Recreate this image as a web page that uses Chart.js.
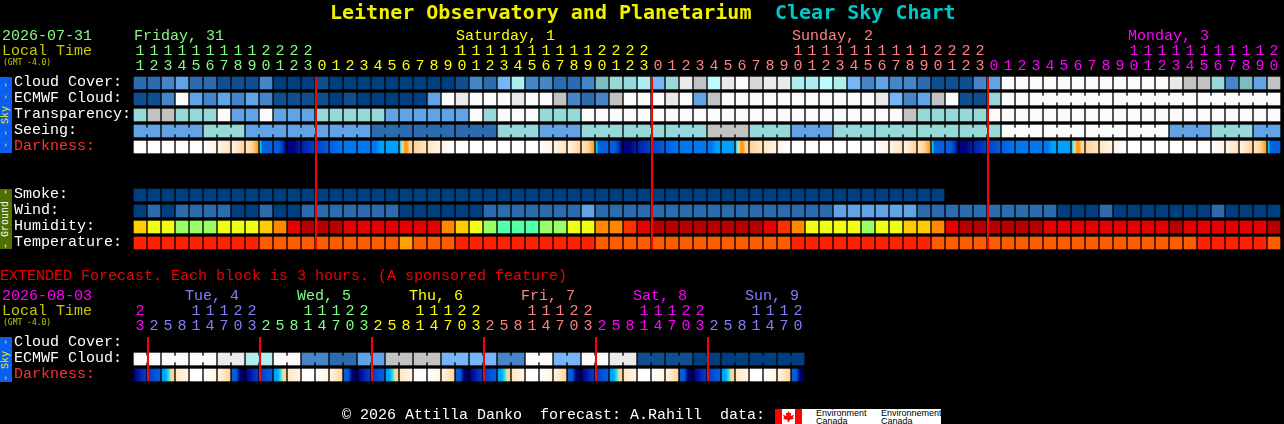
<!DOCTYPE html>
<html>
<head>
<meta charset="utf-8">
<title>Leitner Observatory and Planetarium Clear Sky Chart</title>
<script src="https://cdn.jsdelivr.net/npm/chart.js@4"></script>
<style>
  html, body { margin: 0; padding: 0; background: #000; width: 1284px; height: 424px; overflow: hidden; }
  canvas { position: absolute; left: 0; }
  .t { position: absolute; font: 15px/15px "Liberation Mono", monospace; white-space: pre; will-change: transform; }
  .title { font: bold 20px/20px "DejaVu Sans Mono", monospace; top: 2px; }
  .gmt { font: 8px/8px "DejaVu Sans Mono", monospace; color: #c8c800; left: 3px; }
  .strip { position: absolute; left: 0; width: 12px; }
  .strip span { position: absolute; left: 50%; top: 50%; transform: translate(-50%, -50%) rotate(-90deg);
    font: 10px/10px "Liberation Mono", monospace; white-space: pre; }
  .logo { position: absolute; background: #fff; color: #000; font: 9px/8px "Liberation Sans", sans-serif; white-space: pre; }
</style>
</head>
<body>
<div class="t title" style="left:330px;color:#f0f000">Leitner Observatory and Planetarium</div>
<div class="t title" style="left:775px;color:#00c8c8">Clear Sky Chart</div>

<div class="t" style="left:2px;top:29px;color:#80ff80">2026-07-31</div>
<div class="t" style="left:2px;top:44px;color:#c8c800">Local Time</div>
<div class="t gmt" style="top:59px">(GMT -4.0)</div>
<div class="strip" style="top:77px;height:76px;background:#0a5ef0"><span style="color:#f0f000">- - Sky - -</span></div>
<div class="strip" style="top:189px;height:60px;background:#4f6f00"><span style="color:#fff">- Ground -</span></div>
<canvas id="mainChart" width="1284" height="253" style="top:0"></canvas>

<div class="t" style="left:0;top:269px;color:#f00000">EXTENDED Forecast. Each block is 3 hours. (A sponsored feature)</div>
<div class="t" style="left:2px;top:289px;color:#ff00ff">2026-08-03</div>
<div class="t" style="left:2px;top:304px;color:#c8c800">Local Time</div>
<div class="t gmt" style="top:319px">(GMT -4.0)</div>
<div class="strip" style="top:337px;height:45px;background:#0a5ef0"><span style="color:#f0f000">- Sky -</span></div>
<canvas id="extChart" width="1284" height="125" style="top:260px"></canvas>

<div class="t" style="left:342px;top:408px;color:#fff">© 2026 Attilla Danko  forecast: A.Rahill  data:</div>
<div style="position:absolute;left:775px;top:409px;width:27px;height:15px;background:linear-gradient(90deg,#f00 7px,#fff 7px,#fff 20px,#f00 20px)">
  <div style="position:absolute;left:8px;top:2px;width:11px;height:11px;background:#f00;clip-path:polygon(50% 0,62% 20%,75% 15%,70% 45%,100% 35%,90% 60%,100% 70%,58% 82%,58% 100%,42% 100%,42% 82%,0 70%,10% 60%,0 35%,30% 45%,25% 15%,38% 20%)"></div>
</div>
<div class="logo" style="left:802px;top:409px;width:139px;height:15px">
  <span style="position:absolute;left:14px;top:0">Environment
Canada</span>
  <span style="position:absolute;left:79px;top:0">Environnement
Canada</span>
</div>

<script>
// hours per column
const hours = [11,12,13,14,15,16,17,18,19,20,21,22,23,
  0,1,2,3,4,5,6,7,8,9,10,11,12,13,14,15,16,17,18,19,20,21,22,23,
  0,1,2,3,4,5,6,7,8,9,10,11,12,13,14,15,16,17,18,19,20,21,22,23,
  0,1,2,3,4,5,6,7,8,9,10,11,12,13,14,15,16,17,18,19,20];
const extHours = [23,
  2,5,8,11,14,17,20,23, 2,5,8,11,14,17,20,23, 2,5,8,11,14,17,20,23,
  2,5,8,11,14,17,20,23, 2,5,8,11,14,17,20,23, 2,5,8,11,14,17,20];

const dayNames = ['Friday, 31', 'Saturday, 1', 'Sunday, 2', 'Monday, 3'];
const dayCols = [0, 23, 47, 71];
const dayColors = ['#80ff80', '#ffff00', '#ff8080', '#ff00ff'];
const extDayNames = ['Tue, 4', 'Wed, 5', 'Thu, 6', 'Fri, 7', 'Sat, 8', 'Sun, 9'];
const extDayCols = [3, 11, 19, 27, 35, 43];
const extDayColors = ['#ff00ff', '#8080ff', '#80ff80', '#ffff00', '#ff8080', '#ff00ff', '#8080ff'];

const rowNames = ['Cloud Cover:', 'ECMWF Cloud:', 'Transparency:', 'Seeing:', 'Darkness:', '', '', 'Smoke:', 'Wind:', 'Humidity:', 'Temperature:'];
const extRowNames = ['Cloud Cover:', 'ECMWF Cloud:', 'Darkness:'];

// colour levels
const skyColors = ['#003f7f','#0f4f8f','#2c6cae','#4585c8','#62a3e6','#75b5f8','#7ebdbe','#97d8d8','#aeeeee','#bcfcfc','#c2c2c2','#d8d8d8','#eaeaea','#fbfbfb'];
const humidityColors = ['#b80000','#e80000','#ff3000','#ff8800','#ffcc00','#eeff11','#99ff66','#55ffaa'];
const tempColors = ['#ff2200','#ff5c00','#ffa000'];
const darkRamp = ['#ffffff','#fff4e6','#ffe6c4','#ffd49a','#f8a020','#00e0ff','#00a0ff','#0078f0','#0060e0','#0040c8','#0020a8','#000080','#000040'];

const cloudCover = [2,2,3,4,2,2,1,1,1,3,0,0,0,1,0,0,0,0,0,0,0,
  0,0,1,3,2,5,8,3,3,2,2,3,6,7,7,8,5,7,12,10,9,12,13,11,12,12,8,8,9,8,5,
  3,4,3,3,2,1,1,1,3,4,
  13,13,13,13,13,13,13,13,13,13,13,13,
  12,10,10,7,3,6,4,10];
const ecmwf = [1,1,3,13,4,3,4,3,4,3,1,1,1,1,0,1,0,0,0,0,0,
  4,13,12,13,13,13,12,13,13,10,3,2,3,10,13,13,13,12,13,4,10,13,13,13,13,13,13,13,13,13,13,
  13,12,5,3,4,10,13,1,1,7,13,13,
  13,13,13,13,13,13,13,13,13,13,13,13,13,13,13,13,13,13];
const transparency = [7,10,10,7,7,7,13,4,4,13,4,4,4,7,7,7,7,7,4,4,4,
  4,4,4,13,7,13,13,13,7,7,7,13,13,13,13,13,13,13,13,13,13,13,13,13,13,13,13,13,13,13,13,
  13,13,13,10,7,7,7,7,7,
  13,13,13,13,13,13,13,13,13,13,13,13,13,13,13,13,13,13,13,13,13];
const seeing = [4,4, 4,4,4, 7,7,7, 4,4,4, 4,4,4, 4,4,4, 2,2,2, 2,2,2, 2,2,2, 7,7,7, 4,4,4, 7,7,7, 7,7,7, 7,7,7,
  10,10,10, 7,7,7, 4,4,4, 7,7,7, 7,7,7, 7,7,7, 7,7,7, 13,13,13, 13,13,13, 13,13,13, 13,13,13, 4,4,4, 7,7,7, 4,4];
// darkness: hex digits are ramp levels, spread evenly over the block
const darkness = ['0','0','0','0','0','01','12','13','234','588888','889b','bba','a9','98','87','7','7','7766','6','534433','32','21','10',
  '0','0','0','0','0','0','01','12','13','234','588888','889b','bba','a9','98','87','7','7','7766','6','534433','32','21','10',
  '0','0','0','0','0','0','01','12','13','234','588888','889b','bba','a9','98','87','7','7','7766','6','534433','32','21','10',
  '0','0','0','0','0','0','01','12','13','234','588888'];
const smoke = [0,0,0,0,0,0,0,0,0,0,0,0,0,0,0,0,0,0,0,0,0,0,0,0,0,0,0,0,0,
  0,0,0,0,0,0,0,0,0,0,0,0,0,0,0,0,0,0,0,0,0,0,0,0,0,0,0,0,0];
const wind = [0,2,0,2,2,2,2,0,0,2,0,0,2,2,2,2,2,2,2,0,0,
  0,0,0,0,2,2,2,2,2,2,2,4,2,2,2,2,2,2,2,2,2,2,2,2,2,2,2,2,2,4,4,
  4,4,4,4,2,2,2,2,2,2,2,2,2,2,0,0,0,2,0,0,0,0,0,0,0,2,0,0,0,0];
const humidity = [4,5,5,6,6,6,5,5,5,4,3,1,0,0,0,1,1,1,1,1,1,
  1,3,4,5,6,7,7,7,6,6,5,5,3,3,2,1,0,0,0,0,0,0,0,0,1,2,3,5,5,5,5,
  6,5,5,4,4,3,1,0,0,0,0,0,0,1,1,1,1,1,1,1,1,1,0,1,1,1,1,1,1,0];
const temperature = [0,0,0,0,0,0,0,0,0,1,1,1,1,1,1,1,1,1,1,2,1,
  1,1,0,0,0,0,0,0,0,0,0,0,1,1,1,1,1,1,1,1,1,1,1,1,1,1,0,0,0,0,0,
  0,0,0,0,0,1,1,1,1,1,1,1,1,1,1,1,1,1,1,1,1,1,1,1,0,0,0,0,0,1];

const extEcmwf = [13,13,13,13,13,13,12,12,8,8,13,13,3,3,2,2,4,4,10,10,10,10,5,5,
  5,5,3,3,13,13,5,5,13,13,12,12,1,1,1,1,0,0,0,0,0,0,0,0];
const extDarkness = ['ba9','98','66533','21','0','01','123','88bc',
  'ba9','98','66533','21','0','01','123','88bc',
  'ba9','98','66533','21','0','01','123','88bc',
  'ba9','98','66533','21','0','01','123','88bc',
  'ba9','98','66533','21','0','01','123','88bc',
  'ba9','98','66533','21','0','01','123','88bc'];

const midnights = [13, 37, 61];
const extMidnights = [1, 9, 17, 25, 33, 41];

const monoFont = { family: '"Liberation Mono", monospace', size: 15, lineHeight: 1 };

function cellBars(row, values, palette) {
  return {
    yAxisID: 'y', xAxisID: 'x', order: 2,
    data: values.map(() => [row + 0.125, row + 0.875]),
    backgroundColor: values.map(v => palette[v])
  };
}

// darkness cells fade across the block, so each one gets its own gradient
function darknessBars(row, stops) {
  return {
    yAxisID: 'y', xAxisID: 'x', order: 2,
    data: stops.map(() => [row + 0.125, row + 0.875]),
    backgroundColor: c => {
      const levels = stops[c.dataIndex];
      const mid = c.chart.scales.x.getPixelForValue(c.dataIndex);
      if (levels === undefined || !isFinite(mid)) return '#000';
      const grad = c.chart.ctx.createLinearGradient(mid - 6, 0, mid + 6, 0);
      const n = Math.max(levels.length - 1, 1);
      [...levels].forEach((ch, i) => grad.addColorStop(i / n, darkRamp[parseInt(ch, 16)]));
      if (levels.length === 1) grad.addColorStop(1, darkRamp[parseInt(levels, 16)]);
      return grad;
    }
  };
}

// the little tabs that tie cells of one forecast block together
function bridgeBars(row, values, palette, joined) {
  const cols = values.map((v, k) => k).filter(k => k > 0 && joined(k));
  return {
    yAxisID: 'y', xAxisID: 'xLine', order: 1, barThickness: 2,
    data: cols.map(k => ({ x: k, y: [row + 0.3125, row + 0.6875] })),
    backgroundColor: cols.map(k => palette[values[k]])
  };
}

function midnightLine(col, rows) {
  return {
    type: 'line', yAxisID: 'y', xAxisID: 'xLine', order: 0,
    data: [{ x: col + 1 / 14, y: 0.125 }, { x: col + 1 / 14, y: rows - 0.125 }],
    borderColor: '#ff0000', borderWidth: 2, pointRadius: 0
  };
}

function dayIndexes(hrs) {
  let d = 0;
  return hrs.map((h, i) => { if (i > 0 && h < hrs[i - 1]) d++; return d; });
}

function noPad(s) {
  s.paddingLeft = 0; s.paddingRight = 0; s.paddingTop = 0; s.paddingBottom = 0;
}

function drawChart(id, hrs, names, nameCols, nameColors, nameOffset, rightPad, rows, datasets) {
  const dayIdx = dayIndexes(hrs);
  // day labels take the colour of the day they sit over
  const nameDay = nameCols.map(c => dayIdx[c]);
  return new Chart(document.getElementById(id), {
    type: 'bar',
    data: { labels: hrs, datasets: datasets },
    options: {
      responsive: false,
      animation: false,
      events: [],
      layout: { padding: { left: 14, right: rightPad, top: 29, bottom: 2 } },
      datasets: { bar: { grouped: false, barThickness: 12, borderWidth: 0, borderSkipped: false } },
      plugins: { legend: { display: false }, tooltip: { enabled: false } },
      scales: {
        x: {
          position: 'top', weight: 2,
          grid: { display: false, drawTicks: false }, border: { display: false },
          ticks: {
            autoSkip: false, maxRotation: 0, minRotation: 0, padding: 1, font: monoFont,
            color: c => nameColors[dayIdx[c.index]],
            callback: (v, i) => [hrs[i] >= 10 ? String(Math.floor(hrs[i] / 10)) : ' ', String(hrs[i] % 10)]
          },
          afterFit: s => { s.height = 31; noPad(s); }
        },
        xDay: {
          position: 'top', weight: 3,
          grid: { display: false, drawTicks: false }, border: { display: false },
          ticks: {
            autoSkip: false, maxRotation: 0, minRotation: 0, padding: 0, align: 'start',
            labelOffset: nameOffset, font: monoFont,
            color: c => {
              const n = nameCols.indexOf(c.index);
              return n < 0 ? '#000' : nameColors[nameDay[n]];
            },
            callback: (v, i) => {
              const n = nameCols.indexOf(i);
              return n < 0 ? '' : names[n];
            }
          },
          afterFit: s => { s.height = 15; noPad(s); }
        },
        xLine: { type: 'linear', display: false, min: 0, max: hrs.length, offset: false },
        y: {
          type: 'linear', reverse: true, min: 0, max: rows.length,
          grid: { display: false, drawTicks: false }, border: { display: false },
          afterBuildTicks: s => { s.ticks = rows.map((r, i) => ({ value: i + 0.5 })); },
          afterFit: s => { s.width = 119; noPad(s); },
          ticks: {
            autoSkip: false, crossAlign: 'far', padding: 0, font: monoFont, labelOffset: -1,
            color: c => rows[Math.floor(c.tick.value)] === 'Darkness:' ? '#ff3030' : '#ffffff',
            callback: v => rows[Math.floor(v)]
          }
        }
      }
    }
  });
}

const mainSets = [
  cellBars(0, cloudCover, skyColors),
  cellBars(1, ecmwf, skyColors),
  bridgeBars(1, ecmwf, skyColors, k => k >= 65 && k !== 70 && k !== 76),
  cellBars(2, transparency, skyColors),
  cellBars(3, seeing, skyColors),
  bridgeBars(3, seeing, skyColors, k => (k + 1) % 3 !== 0),
  darknessBars(4, darkness),
  cellBars(7, smoke, skyColors),
  cellBars(8, wind, skyColors),
  cellBars(9, humidity, humidityColors),
  cellBars(10, temperature, tempColors),
  ...midnights.map(c => midnightLine(c, rowNames.length))
];
drawChart('mainChart', hours, dayNames, dayCols, dayColors, -6, 3, rowNames, mainSets);

const extSets = [
  cellBars(1, extEcmwf, skyColors),
  bridgeBars(1, extEcmwf, skyColors, k => k % 2 === 1),
  darknessBars(2, extDarkness),
  ...extMidnights.map(c => midnightLine(c, extRowNames.length))
];
drawChart('extChart', extHours, extDayNames, extDayCols, extDayColors, 3, 479, extRowNames, extSets);
</script>
</body>
</html>
